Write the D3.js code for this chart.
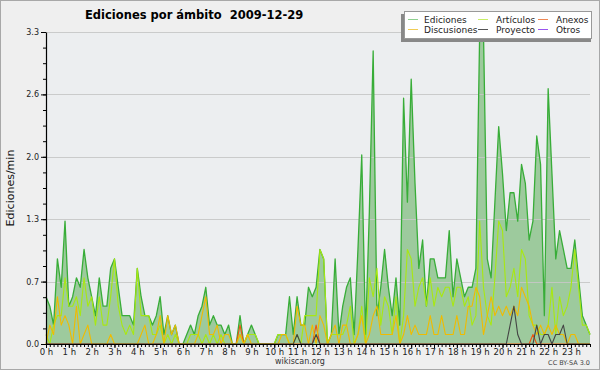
<!DOCTYPE html>
<html>
<head>
<meta charset="utf-8">
<script src="https://cdn.jsdelivr.net/npm/d3@7"></script>
<style>
  body { margin: 0; background: #efefef; }
  svg { display: block; font-family: 'DejaVu Sans', sans-serif; }
</style>
</head>
<body>
<svg width="600" height="370"></svg>
<script>
(function (d3) {
  'use strict';

  const titleText = 'Ediciones por ámbito  2009-12-29';
  const yAxisLabelText = 'Ediciones/min';

  // one value every 10 minutes, 0:00 -> 23:50
  const ediciones = [
    0.5, 0.4, 0.2, 0.9, 0.6, 1.3,  0.4, 0.5, 0.7, 0.6, 1.0, 0.7,
    0.5, 0.3, 0.7, 0.4, 0.4, 0.8,  0.9, 0.6, 0.3, 0.3, 0.3, 0.2,
    0.8, 0.5, 0.3, 0.3, 0.2, 0.3,  0.5, 0.1, 0.3, 0.1, 0.2, 0.0,
    0.0, 0.1, 0.2, 0.1, 0.3, 0.4,  0.6, 0.2, 0.3, 0.2, 0.2, 0.1,
    0.2, 0.0, 0.0, 0.3, 0.0, 0.1,  0.2, 0.1, 0.0, 0.0, 0.0, 0.0,
    0.0, 0.1, 0.1, 0.1, 0.5, 0.1,  0.5, 0.2, 0.2, 0.6, 0.5, 0.6,
    1.0, 0.9, 0.0, 0.1, 0.9, 0.1,  0.4, 0.6, 0.7, 0.1, 1.0, 2.0,
    0.1, 1.4, 3.1, 0.3, 0.6, 1.0,  0.6, 0.3, 0.7, 0.2, 2.6, 1.5,
    2.8, 1.7, 0.8, 1.1, 0.4, 0.9,  0.9, 0.7, 0.7, 0.7, 1.2, 0.5,
    0.9, 0.7, 0.5, 0.6, 0.6, 0.8,  3.3, 3.3, 0.9, 0.7, 1.5, 2.3,
    1.8, 1.2, 1.6, 1.6, 1.3, 1.9,  1.7, 1.1, 1.3, 2.2, 1.9, 0.3,
    2.7, 1.8, 0.9, 1.2, 1.0, 0.8,  0.8, 1.1, 0.7, 0.3, 0.2, 0.1
  ];
  const articulos = [
    0.1, 0.0, 0.2, 0.3, 0.3, 0.7,  0.4, 0.4, 0.5, 0.3, 0.7, 0.4,
    0.5, 0.2, 0.5, 0.2, 0.2, 0.5,  0.9, 0.4, 0.2, 0.1, 0.2, 0.1,
    0.8, 0.3, 0.3, 0.3, 0.1, 0.1,  0.2, 0.0, 0.1, 0.0, 0.1, 0.0,
    0.0, 0.0, 0.1, 0.1, 0.1, 0.0,  0.1, 0.0, 0.1, 0.0, 0.1, 0.0,
    0.0, 0.0, 0.0, 0.1, 0.0, 0.1,  0.1, 0.1, 0.0, 0.0, 0.0, 0.0,
    0.0, 0.1, 0.1, 0.1, 0.0, 0.0,  0.1, 0.0, 0.3, 0.3, 0.3, 0.3,
    1.0, 0.9, 0.0, 0.1, 0.1, 0.1,  0.1, 0.2, 0.4, 0.0, 0.1, 0.4,
    0.0, 0.7, 0.5, 0.8, 0.2, 0.5,  0.4, 0.1, 0.5, 0.0, 0.3, 1.0,
    0.9, 0.4, 0.6, 0.7, 0.4, 0.7,  0.4, 0.6, 0.5, 0.6, 0.6, 0.4,
    0.6, 0.6, 0.4, 0.5, 0.2, 0.3,  1.3, 0.6, 0.3, 0.2, 0.7, 1.3,
    1.2, 0.5, 0.6, 0.8, 0.5, 1.0,  0.9, 0.3, 0.2, 0.2, 0.1, 0.1,
    0.2, 0.6, 0.1, 0.5, 0.3, 0.4,  0.6, 1.0, 0.6, 0.2, 0.2, 0.1
  ];
  const discusiones = [
    0.0, 0.2, 0.1, 0.5, 0.2, 0.3,  0.2, 0.0, 0.4, 0.0, 0.1, 0.2,
    0.0, 0.0, 0.0, 0.0, 0.0, 0.1,  0.0, 0.0, 0.0, 0.0, 0.0, 0.0,
    0.0, 0.1, 0.2, 0.0, 0.0, 0.1,  0.3, 0.0, 0.3, 0.1, 0.2, 0.0,
    0.0, 0.0, 0.0, 0.0, 0.1, 0.3,  0.5, 0.1, 0.1, 0.2, 0.0, 0.1,
    0.1, 0.0, 0.0, 0.1, 0.0, 0.1,  0.0, 0.0, 0.0, 0.0, 0.0, 0.0,
    0.0, 0.0, 0.1, 0.1, 0.0, 0.0,  0.4, 0.2, 0.2, 0.0, 0.2, 0.0,
    0.3, 0.2, 0.0, 0.1, 0.2, 0.0,  0.2, 0.2, 0.0, 0.0, 0.1, 0.3,
    0.0, 0.1, 0.3, 0.4, 0.1, 0.1,  0.1, 0.1, 0.3, 0.0, 0.1, 0.3,
    0.1, 0.2, 0.1, 0.1, 0.1, 0.3,  0.1, 0.1, 0.3, 0.1, 0.1, 0.1,
    0.3, 0.1, 0.1, 0.4, 0.4, 0.6,  0.5, 0.1, 0.3, 0.5, 0.3, 0.4,
    0.3, 0.4, 0.3, 0.4, 0.3, 0.6,  0.5, 0.4, 0.2, 0.1, 0.2, 0.1,
    0.2, 0.1, 0.2, 0.1, 0.1, 0.0,  0.1, 0.1, 0.0, 0.0, 0.0, 0.0
  ];
  const anexos = [
    0, 0, 0, 0, 0, 0,  0, 0, 0, 0, 0, 0,  0, 0, 0, 0, 0, 0,  0, 0, 0, 0, 0, 0,
    0, 0, 0, 0, 0, 0,  0, 0, 0, 0, 0, 0,  0, 0, 0, 0, 0, 0,  0, 0, 0, 0, 0, 0,
    0, 0, 0, 0.2, 0, 0,  0, 0, 0, 0, 0, 0,  0, 0, 0, 0, 0, 0,  0, 0, 0, 0, 0, 0.2,
    0, 0, 0, 0, 0, 0,  0, 0, 0, 0, 0, 0,  0, 0, 0, 0, 0, 0,  0, 0, 0, 0, 0, 0,
    0, 0, 0, 0, 0, 0,  0, 0, 0, 0, 0, 0,  0, 0, 0, 0, 0, 0,  0, 0, 0, 0, 0, 0,
    0, 0, 0, 0, 0, 0,  0, 0, 0.1, 0, 0, 0,  0, 0, 0, 0, 0, 0,  0, 0, 0, 0, 0, 0
  ];
  const proyecto = [
    0, 0, 0, 0, 0, 0,  0, 0, 0, 0, 0, 0,  0, 0, 0, 0, 0, 0,  0, 0, 0, 0, 0, 0,
    0, 0, 0, 0, 0, 0,  0, 0, 0, 0, 0, 0,  0, 0, 0, 0, 0, 0,  0, 0, 0, 0, 0, 0,
    0, 0, 0, 0, 0, 0,  0, 0, 0, 0, 0, 0,  0, 0, 0, 0, 0, 0,  0.1, 0, 0, 0, 0, 0.1,
    0, 0, 0, 0, 0, 0,  0, 0, 0, 0, 0, 0,  0, 0, 0, 0, 0, 0,  0, 0, 0, 0, 0, 0,
    0, 0, 0, 0, 0, 0,  0, 0, 0, 0, 0, 0,  0, 0, 0, 0, 0, 0,  0, 0, 0, 0, 0, 0,
    0, 0, 0.2, 0.4, 0.1, 0,  0, 0, 0, 0.2, 0, 0.1,  0.1, 0, 0.1, 0.1, 0.2, 0,  0, 0, 0, 0, 0, 0
  ];

  const hourLabels = [
    '0 h', '1 h', '2 h', '3 h', '4 h', '5 h', '6 h', '7 h', '8 h', '9 h', '10 h', '11 h',
    '12 h', '13 h', '14 h', '15 h', '16 h', '17 h', '18 h', '19 h', '20 h', '21 h', '22 h', '23 h'
  ];
  const yTicks = [0, 0.66, 1.32, 1.98, 2.64, 3.3];
  const legendNames = ['Ediciones', 'Artículos', 'Anexos', 'Discusiones', 'Proyecto', 'Otros'];

  const colors = {
    'Ediciones': '#38ad38',
    'Artículos': '#a8e812',
    'Anexos': '#ee5511',
    'Discusiones': '#f0bb00',
    'Proyecto': '#444444',
    'Otros': '#9944ee'
  };
  const legendColors = {
    'Ediciones': '#8fd08f',
    'Artículos': '#c8ee66',
    'Anexos': '#ee8855',
    'Discusiones': '#f0cc55',
    'Proyecto': '#555555',
    'Otros': '#9955ee'
  };

  const svg = d3.select('svg');
  const width = +svg.attr('width');
  const height = +svg.attr('height');
  const margin = { top: 32, right: 10, bottom: 26, left: 46 };
  const innerWidth = width - margin.left - margin.right;
  const innerHeight = height - margin.top - margin.bottom;

  const render = () => {
    svg.append('rect')
      .attr('x', 0.5).attr('y', 0.5)
      .attr('width', width - 1).attr('height', height - 1)
      .attr('fill', '#efefef')
      .attr('stroke', '#a8a8a8');

    const xScale = d3.scaleLinear()
      .domain([0, ediciones.length - 1])
      .range([0, innerWidth]);

    const yScale = d3.scaleLinear()
      .domain([0, 3.3])
      .range([innerHeight, 0]);

    const g = svg.append('g')
      .attr('transform', `translate(${margin.left},${margin.top})`);

    g.append('rect')
      .attr('width', innerWidth)
      .attr('height', innerHeight)
      .attr('fill', '#eceef0');

    const area = d3.area()
      .x((d, i) => xScale(i))
      .y0(yScale(0))
      .y1(d => yScale(d));

    g.append('path')
      .datum(ediciones)
      .attr('d', area)
      .attr('fill', '#9dca9d');

    // grid
    g.selectAll('.grid').data(yTicks.slice(1))
      .enter().append('line')
        .attr('class', 'grid')
        .attr('x1', 0).attr('x2', innerWidth)
        .attr('y1', d => Math.round(yScale(d)) + 0.5)
        .attr('y2', d => Math.round(yScale(d)) + 0.5)
        .attr('stroke', '#c6c6c6')
        .attr('stroke-opacity', 0.9);

    const line = d3.line()
      .x((d, i) => xScale(i))
      .y(d => yScale(d));

    const series = [
      { name: 'Ediciones', values: ediciones, w: 1.3 },
      { name: 'Artículos', values: articulos, w: 1.1 },
      { name: 'Anexos', values: anexos, w: 1.1 },
      { name: 'Discusiones', values: discusiones, w: 1.1 },
      { name: 'Proyecto', values: proyecto, w: 1.1 }
    ];

    g.selectAll('.serie').data(series)
      .enter().append('path')
        .attr('class', 'serie')
        .attr('d', d => line(d.values))
        .attr('fill', 'none')
        .attr('stroke', d => colors[d.name])
        .attr('stroke-width', d => d.w)
        .attr('stroke-linejoin', 'round');

    // y axis
    const yMinor = g.append('g')
      .call(d3.axisLeft(yScale)
        .tickValues(d3.range(0, 21).map(k => k * 0.165))
        .tickSize(3)
        .tickFormat(''));
    yMinor.select('.domain').remove();

    const yAxisG = g.append('g')
      .call(d3.axisLeft(yScale)
        .tickValues(yTicks)
        .tickFormat(d3.format('.1f'))
        .tickSize(5)
        .tickSizeOuter(0)
        .tickPadding(2));
    yAxisG.selectAll('text')
      .attr('font-family', 'DejaVu Sans')
      .attr('font-size', 8)
      .attr('fill', '#222');

    // x axis
    const xMinor = g.append('g')
      .attr('transform', `translate(0,${innerHeight})`)
      .call(d3.axisBottom(xScale)
        .tickValues(d3.range(0, ediciones.length))
        .tickSize(3)
        .tickFormat(''));
    xMinor.select('.domain').remove();

    const xAxisG = g.append('g')
      .attr('transform', `translate(0,${innerHeight})`)
      .call(d3.axisBottom(xScale)
        .tickValues(hourLabels.map((h, i) => i * 6))
        .tickFormat((d, i) => hourLabels[i])
        .tickSize(4)
        .tickSizeOuter(0)
        .tickPadding(1));
    xAxisG.selectAll('text')
      .attr('font-family', 'DejaVu Sans')
      .attr('font-size', 8.5)
      .attr('fill', '#222');

    g.selectAll('.domain').attr('stroke', '#000').attr('stroke-width', 1.2);

    // titles
    svg.append('text')
      .attr('x', 85)
      .attr('y', 19)
      .attr('font-size', 11.5)
      .attr('font-weight', 'bold')
      .style('white-space', 'pre')
      .text(titleText);

    svg.append('text')
      .attr('transform', `translate(14,${margin.top + innerHeight / 2}) rotate(-90)`)
      .attr('text-anchor', 'middle')
      .attr('font-size', 11)
      .attr('fill', '#111')
      .text(yAxisLabelText);

    svg.append('text')
      .attr('x', 300)
      .attr('y', 364)
      .attr('text-anchor', 'middle')
      .attr('font-size', 8)
      .attr('fill', '#333')
      .text('wikiscan.org');

    svg.append('text')
      .attr('x', 590)
      .attr('y', 365)
      .attr('text-anchor', 'end')
      .attr('font-size', 6.5)
      .attr('fill', '#444')
      .text('CC BY-SA 3.0');

    // legend
    const legend = svg.append('g');
    legend.append('rect')
      .attr('x', 401).attr('y', 14)
      .attr('width', 190).attr('height', 28)
      .attr('fill', '#888');
    legend.append('rect')
      .attr('x', 404.5).attr('y', 11.5)
      .attr('width', 187).attr('height', 27)
      .attr('fill', '#fff')
      .attr('stroke', '#999');

    const colX = [408, 478, 538];
    const rowY = [19.5, 29.5];
    const items = legend.selectAll('.item').data(legendNames)
      .enter().append('g')
        .attr('class', 'item')
        .attr('transform', (d, i) => `translate(${colX[i % 3]},${rowY[Math.floor(i / 3)]})`);
    items.append('line')
      .attr('x1', 0).attr('x2', 10)
      .attr('stroke', d => legendColors[d])
      .attr('stroke-width', 1);
    items.append('text')
      .attr('x', (d, i) => (i % 3 === 0 ? 16 : 18))
      .attr('y', 3.5)
      .attr('font-size', 9)
      .attr('fill', '#222')
      .text(d => d);
  };

  render();

}(d3));
</script>
</body>
</html>
